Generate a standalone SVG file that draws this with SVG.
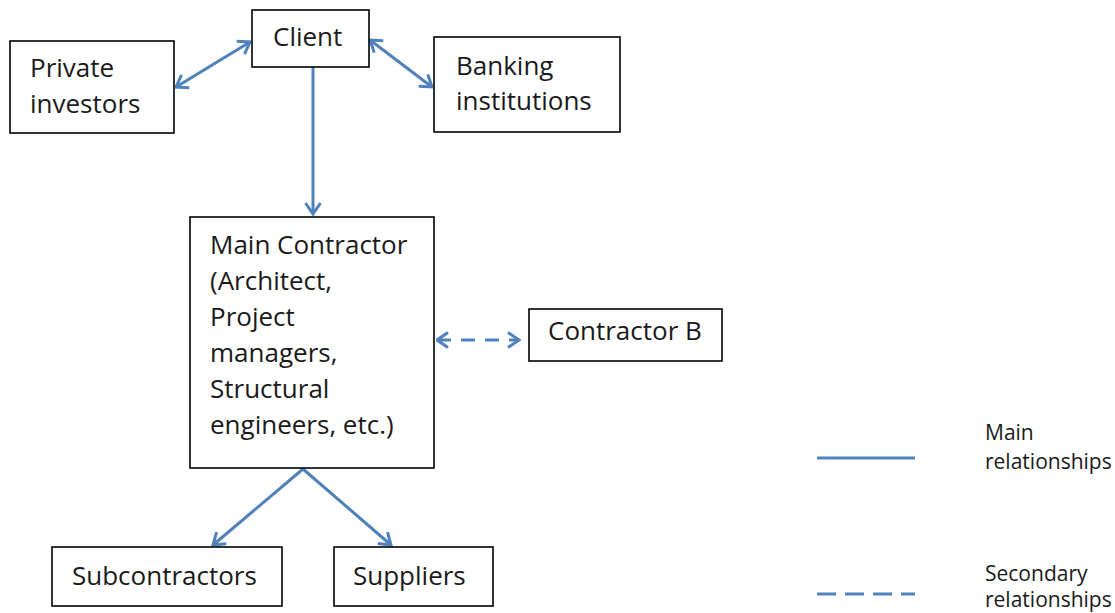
<svg xmlns="http://www.w3.org/2000/svg" width="1115" height="613" viewBox="0 0 1115 613">
  <style>
    .box { fill: #ffffff; stroke: #000000; stroke-width: 1.6; }
    .lbl { font-family: "Open Sans", "Liberation Sans", sans-serif; font-size: 26px; fill: #1a1a1a; }
    .leg { font-family: "Open Sans", "Liberation Sans", sans-serif; font-size: 21px; fill: #1a1a1a; }
    .link { fill: none; stroke: #4f81bd; stroke-width: 3; }
    .dash { stroke-dasharray: 14 10; }
  </style>
  <defs>
    <marker id="arrow" viewBox="0 0 14 18" refX="12.5" refY="9" markerWidth="14" markerHeight="18" markerUnits="userSpaceOnUse" orient="auto-start-reverse">
      <path d="M1.5,1.5 L12.5,9 L1.5,16.5" fill="none" stroke="#4f81bd" stroke-width="3" stroke-linejoin="miter"/>
    </marker>
  </defs>

  <rect width="1115" height="613" fill="#ffffff"/>

  <g id="connectors">
    <line class="link" x1="313" y1="67" x2="313" y2="214" marker-end="url(#arrow)"/>
    <line class="link" x1="250" y1="42" x2="176" y2="87" marker-start="url(#arrow)" marker-end="url(#arrow)"/>
    <line class="link" x1="370" y1="40" x2="432" y2="87" marker-start="url(#arrow)" marker-end="url(#arrow)"/>
    <line class="link dash" x1="437" y1="340" x2="519" y2="340" marker-start="url(#arrow)" marker-end="url(#arrow)"/>
    <line class="link" x1="303" y1="469" x2="213" y2="545" marker-end="url(#arrow)"/>
    <line class="link" x1="303" y1="469" x2="391" y2="545" marker-end="url(#arrow)"/>
  </g>

  <g id="client">
    <rect class="box" x="252" y="10" width="117" height="57"/>
    <text class="lbl" x="273" y="46">Client</text>
  </g>

  <g id="private-investors">
    <rect class="box" x="10" y="41" width="164" height="92"/>
    <text class="lbl" x="30" y="77">Private</text>
    <text class="lbl" x="30" y="113">investors</text>
  </g>

  <g id="banking-institutions">
    <rect class="box" x="434" y="37" width="186" height="95"/>
    <text class="lbl" x="456" y="75">Banking</text>
    <text class="lbl" x="456" y="110">institutions</text>
  </g>

  <g id="main-contractor">
    <rect class="box" x="190" y="217" width="244" height="251"/>
    <text class="lbl" x="210" y="254">Main Contractor</text>
    <text class="lbl" x="210" y="290">(Architect,</text>
    <text class="lbl" x="210" y="326">Project</text>
    <text class="lbl" x="210" y="362">managers,</text>
    <text class="lbl" x="210" y="398">Structural</text>
    <text class="lbl" x="210" y="434">engineers, etc.)</text>
  </g>

  <g id="contractor-b">
    <rect class="box" x="529" y="309" width="193" height="52"/>
    <text class="lbl" x="548" y="340">Contractor B</text>
  </g>

  <g id="subcontractors">
    <rect class="box" x="52" y="547" width="230" height="59"/>
    <text class="lbl" x="72" y="585">Subcontractors</text>
  </g>

  <g id="suppliers">
    <rect class="box" x="334" y="547" width="159" height="59"/>
    <text class="lbl" x="353" y="585">Suppliers</text>
  </g>

  <g id="legend">
    <line class="link" x1="817" y1="458" x2="915" y2="458"/>
    <line class="link" x1="817" y1="594" x2="915" y2="594" stroke-dasharray="19 9"/>
    <text class="leg" x="985" y="440">Main</text>
    <text class="leg" x="985" y="469">relationships</text>
    <text class="leg" x="985" y="581">Secondary</text>
    <text class="leg" x="985" y="607">relationships</text>
  </g>
</svg>
